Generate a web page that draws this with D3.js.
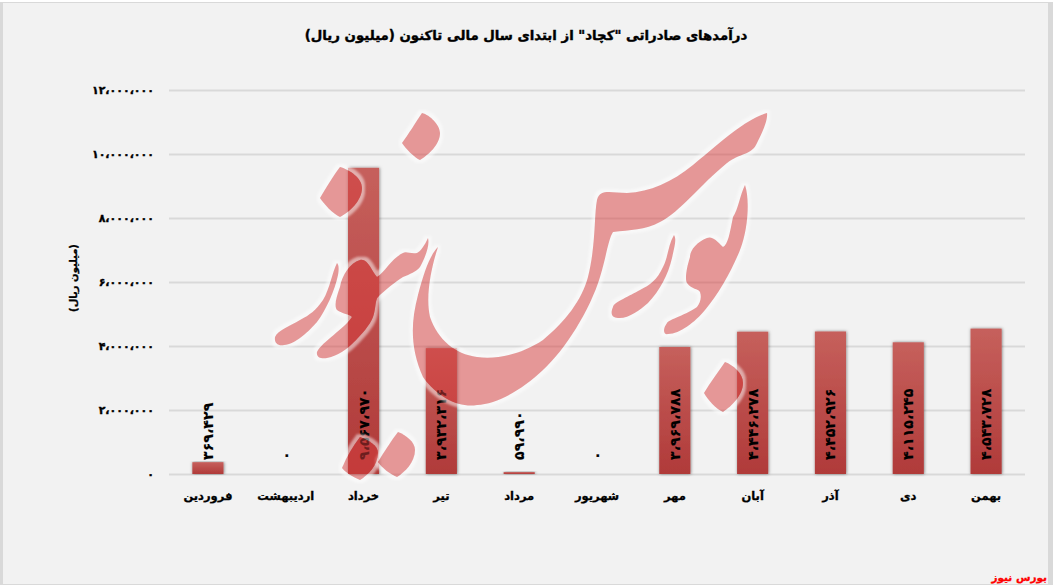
<!DOCTYPE html>
<html lang="fa">
<head>
<meta charset="utf-8">
<script src="https://cdn.jsdelivr.net/npm/d3@7"></script>
<style>
html, body { margin: 0; padding: 0; background: #fff; }
svg { display: block; }
text { font-family: "DejaVu Sans", sans-serif; font-weight: bold; fill: #000; stroke: #000; stroke-width: 0.3px; }
</style>
</head>
<body>
<div id="wrapper"></div>
<script>
const months = ["فروردین", "اردیبهشت", "خرداد", "تیر", "مرداد", "شهریور", "مهر", "آبان", "آذر", "دی", "بهمن"];
const exportValues = [369429, 0, 9567970, 3932316, 59990, 0, 3969788, 4446278, 4452926, 4115245, 4543728];
const valueLabels = ["۳۶۹،۴۲۹", "۰", "۹،۵۶۷،۹۷۰", "۳،۹۳۲،۳۱۶", "۵۹،۹۹۰", "۰", "۳،۹۶۹،۷۸۸", "۴،۴۴۶،۲۷۸", "۴،۴۵۲،۹۲۶", "۴،۱۱۵،۲۴۵", "۴،۵۴۳،۷۲۸"];
const tickValues = [0, 2000000, 4000000, 6000000, 8000000, 10000000, 12000000];
const tickLabels = ["۰", "۲،۰۰۰،۰۰۰", "۴،۰۰۰،۰۰۰", "۶،۰۰۰،۰۰۰", "۸،۰۰۰،۰۰۰", "۱۰،۰۰۰،۰۰۰", "۱۲،۰۰۰،۰۰۰"];

const TITLE = "درآمدهای صادراتی \"کچاد\" از ابتدای سال مالی تاکنون (میلیون ریال)";
const Y_TITLE = "(میلیون ریال)";
const BRAND = "بورس نیوز";

// watermark strokes
const watermarkShapes = [
    "M767,113C745,120 727,137 693,165C672,182 650,192 627,193C612,193 600,188 597,200C594,215 596,245 588,277C582,300 565,322 543,340C522,354 497,360 477,357C455,354 438,340 430,317C425,295 432,265 438,247C430,255 424,272 418,295C410,325 411,350 423,377C438,398 460,408 477,405C497,404 522,390 543,370C565,350 590,310 600,277C606,258 608,240 613,232C630,230 645,230 660,222C680,212 700,185 727,163C740,153 752,155 757,143C762,133 768,120 767,113Z",
    "M745,185C740,195 738,210 733,217C730,232 728,245 723,247C716,240 712,236 707,238C697,242 690,250 690,257C686,270 685,280 687,283C692,290 698,288 700,292C702,298 700,303 697,307C688,314 668,320 667,323C662,330 664,335 668,334C680,334 695,322 705,310C718,295 732,270 740,250C748,230 750,200 745,185Z",
    "M674,235C668,245 668,258 663,267C657,280 650,285 640,290C630,296 614,302 613,307C610,314 612,318 618,318C628,319 640,310 648,303C660,290 668,275 672,258C674,248 677,240 674,235Z",
    "M337,263C332,273 330,288 323,300C316,310 310,315 300,320C290,326 278,330 275,337C274,344 279,346 284,345C295,345 310,330 317,322C326,310 335,290 338,275C339,270 339,265 337,263Z",
    "M428,238C425,245 420,252 417,253C410,254 406,251 403,253C392,258 385,272 377,277C372,272 368,258 360,260C350,263 342,275 340,287C336,298 334,306 337,310C342,314 350,314 352,317C345,328 322,342 317,352C316,358 322,359 327,358C338,356 348,348 353,343C362,334 370,325 373,317C376,308 375,300 378,297C385,290 395,282 403,277C410,274 416,272 420,267C425,258 430,245 428,238Z",
    "M422,113C430,115 440,125 440,133C440,145 428,155 420,160C415,158 405,148 402,143C408,135 416,122 422,113Z",
    "M340,167C350,170 362,178 362,188C362,200 350,212 340,217C333,214 324,204 320,198C326,188 333,176 340,167Z",
    "M398,432C406,435 415,442 415,450C415,462 405,472 397,477C390,474 382,468 378,462C384,452 391,441 398,432Z",
    "M360,437C368,440 378,445 378,453C378,465 368,475 360,480C353,477 345,472 342,468C347,456 353,446 360,437Z",
    "M725,362C733,365 743,373 743,383C743,395 732,406 723,412C716,409 708,400 704,393C710,383 718,372 725,362Z"
];

const dimensions = {
    width: 1053,
    height: 586,
    margin: { top: 90, right: 28, bottom: 112, left: 169 },
};
dimensions.boundedWidth = dimensions.width - dimensions.margin.left - dimensions.margin.right;
dimensions.boundedHeight = dimensions.height - dimensions.margin.top - dimensions.margin.bottom;

const wrapper = d3.select("#wrapper")
    .append("svg")
    .attr("width", dimensions.width)
    .attr("height", dimensions.height);

const defs = wrapper.append("defs");

const barGradient = defs.append("linearGradient")
    .attr("id", "barGradient")
    .attr("x1", 0).attr("y1", 0)
    .attr("x2", 0).attr("y2", 1);
barGradient.append("stop").attr("offset", "0%").attr("stop-color", "#c6605c");
barGradient.append("stop").attr("offset", "100%").attr("stop-color", "#b03a39");

const barShadow = defs.append("filter")
    .attr("id", "barShadow")
    .attr("x", "-30%").attr("width", "160%")
    .attr("y", "-5%").attr("height", "110%");
barShadow.append("feDropShadow")
    .attr("dx", 0.5).attr("dy", 0)
    .attr("stdDeviation", 1.8)
    .attr("flood-color", "#000")
    .attr("flood-opacity", 0.5);

// white rim around the watermark, outside the shape only
const halo = defs.append("filter").attr("id", "halo")
    .attr("x", "-15%").attr("width", "130%")
    .attr("y", "-15%").attr("height", "130%");
halo.append("feMorphology")
    .attr("in", "SourceAlpha")
    .attr("operator", "dilate")
    .attr("radius", 3)
    .attr("result", "grown");
halo.append("feGaussianBlur")
    .attr("in", "grown")
    .attr("stdDeviation", 1.3)
    .attr("result", "soft");
halo.append("feFlood")
    .attr("flood-color", "#fff")
    .attr("flood-opacity", 0.5);
halo.append("feComposite")
    .attr("in2", "soft")
    .attr("operator", "in")
    .attr("result", "rim");
halo.append("feComposite")
    .attr("in", "rim")
    .attr("in2", "SourceAlpha")
    .attr("operator", "out");

// grey frame of the picture
wrapper.append("rect")
    .attr("y", 2)
    .attr("width", dimensions.width)
    .attr("height", 583)
    .attr("fill", "#d9d9d9");
wrapper.append("rect")
    .attr("x", 3)
    .attr("y", 3)
    .attr("width", 1045)
    .attr("height", 581)
    .attr("fill", "#f2f2f2");

const bounds = wrapper.append("g")
    .attr("transform", `translate(${dimensions.margin.left}, ${dimensions.margin.top})`);

const xScale = d3.scaleBand()
    .domain(months)
    .range([0, dimensions.boundedWidth])
    .paddingInner(0.6)
    .paddingOuter(0.3);

const yScale = d3.scaleLinear()
    .domain([0, 12000000])
    .range([dimensions.boundedHeight, 0]);

const yAxis = d3.axisLeft(yScale)
    .tickValues(tickValues)
    .tickFormat((d, i) => tickLabels[i])
    .tickSize(-dimensions.boundedWidth)
    .tickPadding(15);

const yAxisGroup = bounds.append("g").call(yAxis);
yAxisGroup.select(".domain").remove();
yAxisGroup.selectAll("line").attr("stroke", "#d9d9d9").attr("stroke-width", 2);
yAxisGroup.selectAll("text").style("font-size", "11px").style("stroke-width", "0.4px");

const xAxis = d3.axisBottom(xScale).tickSize(0).tickPadding(18);
const xAxisGroup = bounds.append("g")
    .attr("transform", `translate(0, ${dimensions.boundedHeight})`)
    .call(xAxis);
xAxisGroup.select(".domain").remove();
xAxisGroup.selectAll("text").style("font-size", "11.5px");

bounds.append("g")
    .selectAll("rect")
    .data(exportValues)
    .join("rect")
    .attr("x", (d, i) => xScale(months[i]))
    .attr("y", d => yScale(d))
    .attr("width", xScale.bandwidth())
    .attr("height", d => dimensions.boundedHeight - yScale(d))
    .attr("fill", "url(#barGradient)")
    .attr("filter", d => d > 0 ? "url(#barShadow)" : null);

bounds.append("g")
    .selectAll("text")
    .data(exportValues)
    .join("text")
    .attr("transform", (d, i) => {
        const x = xScale(months[i]) + xScale.bandwidth() / 2;
        return `translate(${x}, ${dimensions.boundedHeight - 14}) rotate(-90)`;
    })
    .attr("dy", "0.35em")
    .attr("text-anchor", "start")
    .style("direction", "ltr")
    .style("font-size", "14.2px")
    .style("stroke-width", "0.15px")
    .text((d, i) => valueLabels[i]);

wrapper.append("text")
    .attr("x", 526)
    .attr("y", 40)
    .attr("text-anchor", "middle")
    .style("font-size", "13.3px")
    .style("stroke-width", "0.4px")
    .text(TITLE);

wrapper.append("text")
    .attr("transform", "translate(77, 278) rotate(-90)")
    .attr("text-anchor", "middle")
    .style("font-size", "10px")
    .text(Y_TITLE);

wrapper.append("text")
    .attr("x", 1047)
    .attr("y", 581)
    .attr("text-anchor", "end")
    .style("font-size", "10.5px")
    .style("fill", "#ff0000")
    .style("stroke", "#ff0000")
    .text(BRAND);

const watermark = wrapper.append("g");
watermark.selectAll("path.halo")
    .data(watermarkShapes)
    .join("path")
    .attr("class", "halo")
    .attr("d", d => d)
    .attr("fill", "#000")
    .attr("filter", "url(#halo)");
watermark.selectAll("path.shape")
    .data(watermarkShapes)
    .join("path")
    .attr("class", "shape")
    .attr("d", d => d)
    .attr("fill", "rgb(216, 60, 60)")
    .attr("fill-opacity", 0.5);
</script>
</body>
</html>
